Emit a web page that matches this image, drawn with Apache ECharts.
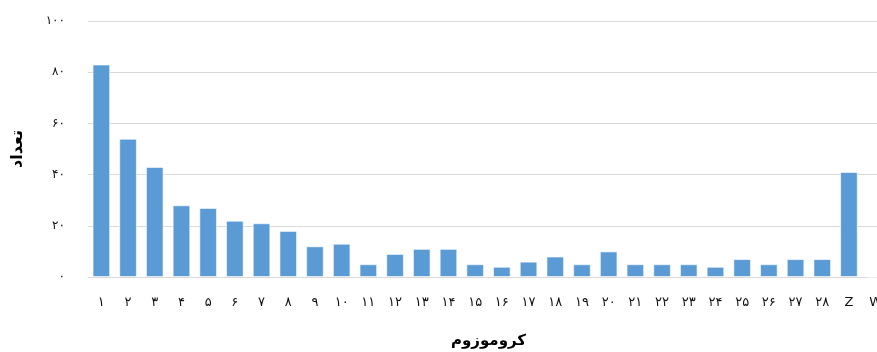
<!DOCTYPE html>
<html>
<head>
<meta charset="utf-8">
<script src="https://cdn.jsdelivr.net/npm/echarts@6/dist/echarts.min.js"></script>
<style>
  html, body { margin: 0; padding: 0; background: #fff; }
  #root { width: 877px; height: 352px; }
</style>
</head>
<body>
<div id="root"></div>
<script>
// کروموزوم ها
const categories = ['۱','۲','۳','۴','۵','۶','۷','۸','۹','۱۰','۱۱','۱۲','۱۳','۱۴','۱۵',
  '۱۶','۱۷','۱۸','۱۹','۲۰','۲۱','۲۲','۲۳','۲۴','۲۵','۲۶','۲۷','۲۸','Z','W'];
// تعداد
const counts = [83, 54, 43, 28, 27, 22, 21, 18, 12, 13, 5, 9, 11, 11, 5,
  4, 6, 8, 5, 10, 5, 5, 5, 4, 7, 5, 7, 7, 41, 0];
const yTickLabels = ['۰', '۲۰', '۴۰', '۶۰', '۸۰', '۱۰۰'];

const font = 'DejaVu Sans';
let myChart = echarts.init(document.getElementById('root'));
let option = {
    animation: false,
    grid: { left: 88, right: -12, top: 21, bottom: 75, outerBoundsMode: 'none' },
    xAxis: {
        type: 'category',
        data: categories,
        name: 'کروموزوم',
        nameLocation: 'middle',
        nameGap: 57,
        nameTextStyle: { fontFamily: font, fontSize: 15, fontWeight: 'bold', color: '#000' },
        axisLine: { lineStyle: { color: '#d9d9d9' } },
        axisTick: { show: false },
        axisLabel: { fontFamily: font, fontSize: 13, color: '#111', margin: 19, interval: 0 }
    },
    yAxis: {
        type: 'value',
        min: 0,
        max: 100,
        interval: 20,
        name: 'تعداد',
        nameLocation: 'middle',
        nameGap: 62,
        nameTextStyle: { fontFamily: font, fontSize: 16, fontWeight: 'bold', color: '#000' },
        axisLine: { show: false },
        axisTick: { show: false },
        splitLine: { lineStyle: { color: '#d9d9d9' } },
        axisLabel: {
            fontFamily: font, fontSize: 12, color: '#111', margin: 23,
            formatter: v => yTickLabels[v / 20]
        }
    },
    series: [
        {
            name: 'تعداد',
            type: 'bar',
            barCategoryGap: '34%',
            itemStyle: { color: '#5b9bd5', borderColor: 'rgba(255,255,255,0.6)', borderWidth: 1 },
            data: counts
        }
    ]
};
myChart.setOption(option);
</script>
</body>
</html>
